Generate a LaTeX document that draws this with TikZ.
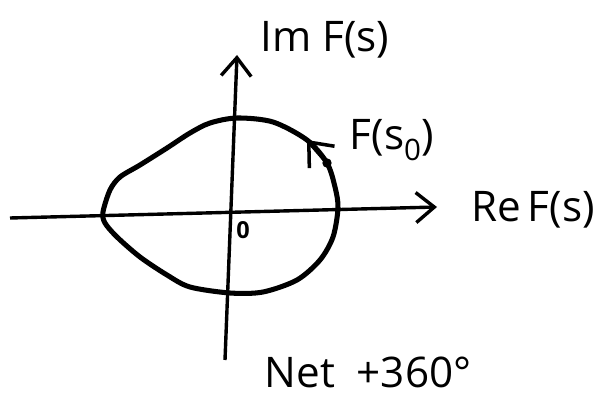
\documentclass[tikz,border=0pt]{standalone}
\usepackage{fontspec}
\setmainfont{Open Sans}
\usetikzlibrary{arrows.meta}

\begin{document}
\begin{tikzpicture}[x=0.03cm,y=-0.03cm,
  >={Straight Barb[length=5.5mm,width=9mm]},
  ax/.style={line width=2.9pt,->},
  lbl/.style={font=\fontsize{36}{40}\selectfont}]
  \useasboundingbox (0,0) rectangle (614,400);
  % axes
  \coordinate (xl) at (10,218);\coordinate (xr) at (437,207);
  \coordinate (yb) at (225,360);\coordinate (yt) at (237,55);
  \draw[ax](xl)--(xr);\draw[ax](yb)--(yt);
  \node[lbl](re) at (533,210){Re\,F(s)};
  \node[lbl](im) at (325,40){Im F(s)};
  \node[font=\fontsize{20}{22}\selectfont\bfseries](o) at (243,230){0};
  % contour
  \draw[line width=4.3pt] plot[smooth cycle,tension=0.5] coordinates{
   (103,212) (110,190) (120,177) (140,165) (167,148) (190,133) (210,123)
   (237,118) (273,122) (307,140) (327,163) (335,187) (338,208) (333,237)
   (320,260) (297,280) (263,292) (230,293) (190,287) (167,275) (140,257)
   (117,237) (105,223)};
  \coordinate (s0) at (327,163);\coordinate (tip) at (307,140);
  \fill (s0) circle (4pt);
  \draw[line width=3pt,-{Straight Barb[length=6mm,width=10mm]}](s0)--(tip);
  \node[lbl](fs) at (392,140){F(s\textsubscript{0})};
  \node[lbl](net) at (368,372){Net\ \ +360°};
\end{tikzpicture}
\end{document}
